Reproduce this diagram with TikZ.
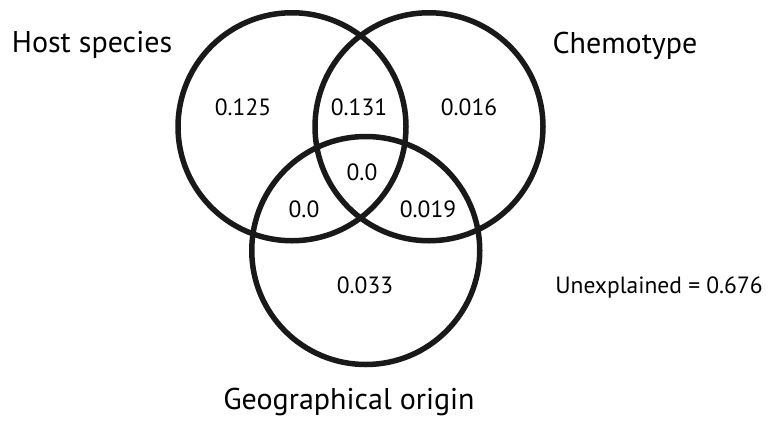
\documentclass[tikz,border=0pt]{standalone}
\usepackage{fontspec}
\setmainfont{PT Sans}
\begin{document}
\begin{tikzpicture}[x=1pt,y=-1pt,
  ring/.style={draw=black!90,line width=5.5pt,circle,minimum size=228pt,inner sep=0pt},
  big/.style={anchor=base,inner sep=0pt,font=\fontsize{30}{34}\selectfont},
  val/.style={anchor=base,inner sep=0pt,font=\fontsize{23.5}{27}\selectfont}]
\useasboundingbox (0,0) rectangle (775,421);
\node[ring] (host) at (292,126.75) {};
\node[ring] (chem) at (429,126.75) {};
\node[ring] (geo) at (365.75,250.5) {};
\node[big] (lhost) at (92,52) {Host species};
\node[big] (lchem) at (625,53) {Chemotype};
\node[big] (lgeo) at (349,409) {Geographical origin};
\node[val] (v1) at (243,115) {0.125};
\node[val] (v2) at (359,115) {0.131};
\node[val] (v3) at (469,115) {0.016};
\node[val] (v4) at (362,180) {0.0};
\node[val] (v5) at (304,217) {0.0};
\node[val] (v6) at (428,217) {0.019};
\node[val] (v7) at (365,293) {0.033};
\node[val] (v8) at (659,293) {Unexplained = 0.676};
\end{tikzpicture}
\end{document}
